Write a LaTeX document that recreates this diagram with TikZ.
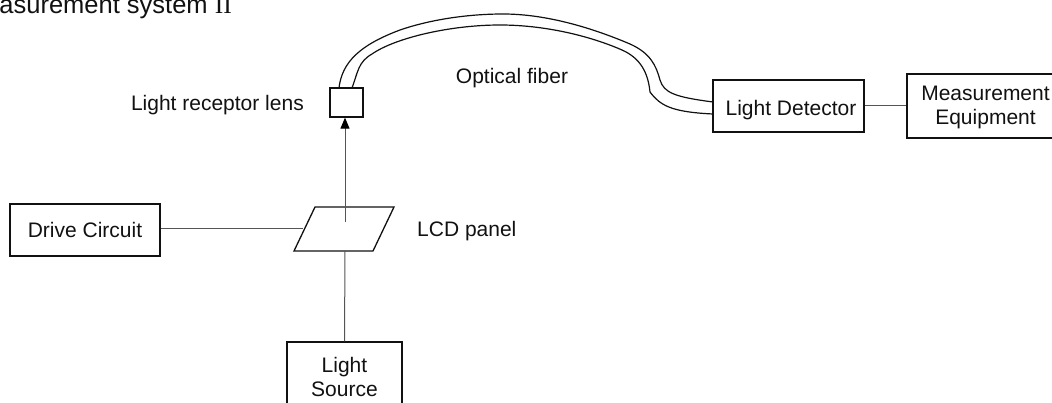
\documentclass[tikz,border=0pt]{standalone}
\usepackage{fontspec}
\setmainfont{Liberation Sans}
\newfontfamily\romanfont{Liberation Serif}
\usepackage{xcolor}
\usetikzlibrary{calc,arrows.meta}
\definecolor{ink}{HTML}{111111}
\definecolor{wire}{HTML}{555555}
\tikzset{
  box/.style={draw=ink, line width=1.3pt, inner sep=0pt, align=center, text=ink, font=\fontsize{21}{24}\selectfont},
  thin wire/.style={draw=wire, line width=1pt},
  fiber/.style={draw=ink, line width=1.2pt, line cap=round, line join=round},
  lab/.style={inner sep=0pt, align=center, text=ink, font=\fontsize{21}{24}\selectfont},
}
\begin{document}
\begin{tikzpicture}[x=1pt,y=-1pt]
  \useasboundingbox (0,0) rectangle (1052,403);
  % boxes
  \node[box,minimum width=150pt,minimum height=52pt] (drive) at (85,230) {Drive Circuit};
  \node[box,minimum width=115pt,minimum height=70pt] (source) at (344.5,377) {Light\\Source};
  \node[box,minimum width=33pt,minimum height=29pt] (lens) at (346.5,102.5) {};
  \node[box,minimum width=151pt,minimum height=52pt] (detector) at (788.5,106) {};
  \node[box,minimum width=158pt,minimum height=64pt] (equip) at (986,106) {};
  % panel
  \coordinate (pA) at (315,207);
  \coordinate (pB) at (394,207);
  \coordinate (pC) at (373,251);
  \coordinate (pD) at (294,251);
  \draw[box] (pA) -- (pB) -- (pC) -- (pD) -- cycle;
  \coordinate (panelIn) at (345,222);
  \coordinate (panelBot) at (345,251);
  \coordinate (panelLeft) at (303,229);
  % labels
  \node[lab,anchor=base east,font=\fontsize{25.5}{30}\selectfont] (title) at (232,14) {Measurement system {\romanfont II}};
  \node[lab,anchor=base east] (lenslab) at (304,111) {Light receptor lens};
  \node[lab,anchor=base] (fiberlab) at (512,84) {Optical fiber};
  \node[lab,anchor=base west] (panellab) at (417,237) {LCD panel};
  \node[lab,anchor=base] (detlab) at (791,116) {Light Detector};
  \node[lab] (equiplab) at (985.5,107) {Measurement\\Equipment};
  % connectors
  \draw[thin wire] (drive.east |- panelLeft) -- (panelLeft);
  \draw[thin wire] (source.north) -- (panelBot);
  \draw[thin wire,-{Triangle[length=11pt,width=9pt,fill=black,color=black]}] (panelIn) -- (panelIn |- lens.south);
  \draw[thin wire] (detector.east) -- (detector.east -| equip.west);
  % fiber, outer and inner line
  \coordinate (fA) at (339,88);
  \coordinate (fB) at (352,88);
  \coordinate (fC) at (713,102);
  \coordinate (fD) at (713,114);
  \draw[fiber] (fA) .. controls (342,62) and (360,45) .. (400,30)
    .. controls (432,19) and (470,14) .. (503,14)
    .. controls (545,14) and (590,27) .. (630,44)
    .. controls (650,53) and (656,65) .. (660,80)
    .. controls (664,93) and (675,97) .. (fC);
  \draw[fiber] (fB) .. controls (358,72) and (358,62) .. (372,54)
    .. controls (395,38) and (450,25) .. (500,25)
    .. controls (545,25) and (590,36) .. (622,50)
    .. controls (640,58) and (648,72) .. (650,92)
    .. controls (660,105) and (670,112) .. (fD);
\end{tikzpicture}
\end{document}
